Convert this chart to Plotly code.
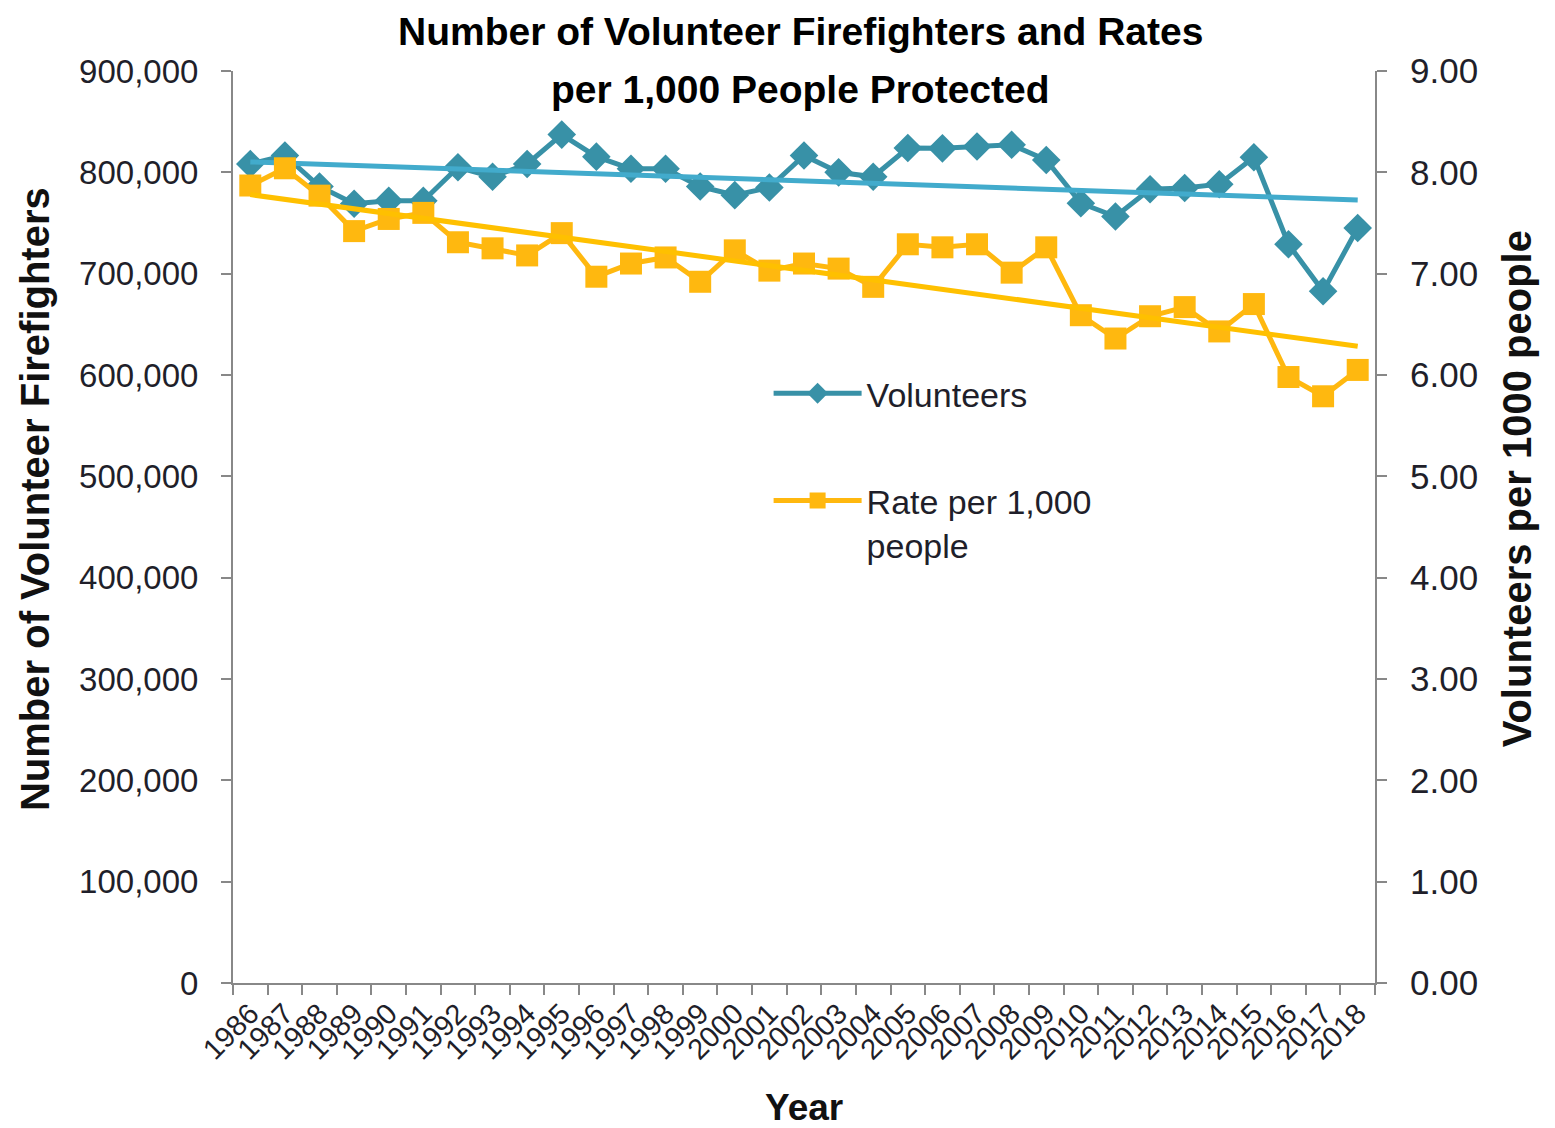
import numpy as np
import plotly.graph_objects as go

years = [str(y) for y in range(1986, 2019)]
volunteers = [808200, 816600, 786000, 769000, 772000, 772000, 805000, 795600, 808200, 837250,
              815500, 803500, 803500, 786000, 777500, 785000, 816600, 800000, 795600, 823950,
              823650, 825450, 827150, 812150, 769500, 756400, 783300, 784500, 788300, 814850,
              729000, 682600, 745000]
rates = [7.87, 8.04, 7.77, 7.42, 7.54, 7.60, 7.31, 7.25, 7.18, 7.40,
         6.97, 7.10, 7.16, 6.92, 7.23, 7.03, 7.10, 7.05, 6.87, 7.29,
         7.26, 7.29, 7.01, 7.26, 6.59, 6.36, 6.58, 6.67, 6.43, 6.70,
         5.98, 5.79, 6.05]

idx = np.arange(len(years))
vfit = np.polyval(np.polyfit(idx, volunteers, 1), idx)
rfit = np.polyval(np.polyfit(idx, rates, 1), idx)

TEAL = "#3891A7"
GOLD = "#FFB80F"

fig = go.Figure()
fig.add_trace(go.Scatter(x=years, y=volunteers, name="Volunteers", mode="lines+markers",
                         line=dict(color=TEAL, width=5),
                         marker=dict(symbol="diamond", size=22, color=TEAL),
                         legendgroup="a"))
fig.add_trace(go.Scatter(x=years, y=rates, name="Rate per 1,000<br>people", mode="lines+markers",
                         yaxis="y2", line=dict(color=GOLD, width=5),
                         marker=dict(symbol="square", size=22, color=GOLD),
                         legendgroup="b"))
fig.add_trace(go.Scatter(x=years, y=vfit, mode="lines", showlegend=False,
                         line=dict(color="#42ABCC", width=5), hoverinfo="skip"))
fig.add_trace(go.Scatter(x=years, y=rfit, mode="lines", showlegend=False, yaxis="y2",
                         line=dict(color="#FFC000", width=5), hoverinfo="skip"))

SANS = "Liberation Sans, Arial"
tick_color = "#1f1f2a"

fig.update_layout(
    width=1555, height=1128,
    margin=dict(l=225, r=188, t=63, b=153),
    paper_bgcolor="white", plot_bgcolor="white",
    xaxis=dict(type="category", range=[-0.5, 32.5], tickmode="linear", tick0=0, dtick=1,
               tickangle=-45, tickson="boundaries",
               ticks="outside", ticklen=10, tickcolor="#888", tickwidth=2,
               showline=True, linecolor="#888", linewidth=2, showgrid=False, automargin=False,
               tickfont=dict(family=SANS, size=29, color=tick_color)),
    yaxis=dict(range=[0, 900000], dtick=100000, tickformat=",d", showgrid=False, zeroline=False,
               showline=True, linecolor="#888", linewidth=2, ticks="outside", ticklen=10,
               tickwidth=2, tickcolor="#888", automargin=False, ticklabelstandoff=16,
               tickfont=dict(family=SANS, size=33, color=tick_color)),
    yaxis2=dict(range=[0, 9], dtick=1, tickformat=".2f", overlaying="y", side="right",
                showgrid=False, zeroline=False, showline=True, linecolor="#888", linewidth=2,
                ticks="outside", ticklen=10, tickwidth=2, tickcolor="#888", automargin=False,
                ticklabelstandoff=16,
                tickfont=dict(family=SANS, size=35, color=tick_color)),
    legend=dict(x=0.469, y=0.678, xanchor="left", yanchor="top", bgcolor="rgba(0,0,0,0)",
                font=dict(family=SANS, size=34, color=tick_color),
                itemwidth=88, tracegroupgap=60, valign="top", traceorder="grouped"),
    annotations=[
        dict(text="<b>Number of Volunteer Firefighters and Rates</b>", xref="paper", yref="paper",
             x=0.497, y=1.0438, xanchor="center", yanchor="middle", showarrow=False,
             font=dict(family="Liberation Sans Narrow, Arial Narrow, Liberation Sans", size=39, color="black")),
        dict(text="<b>per 1,000 People Protected</b>", xref="paper", yref="paper",
             x=0.497, y=0.980, xanchor="center", yanchor="middle", showarrow=False,
             font=dict(family="Liberation Sans Narrow, Arial Narrow, Liberation Sans", size=39, color="black")),
        dict(text="<b>Number of Volunteer Firefighters</b>", xref="paper", yref="paper",
             x=-0.174, y=0.531, xanchor="center", yanchor="middle", showarrow=False, textangle=-90,
             font=dict(family=SANS, size=40, color="#111")),
        dict(text="<b>Volunteers per 1000 people</b>", xref="paper", yref="paper",
             x=1.124, y=0.542, xanchor="center", yanchor="middle", showarrow=False, textangle=-90,
             font=dict(family=SANS, size=40, color="#111")),
        dict(text="<b>Year</b>", xref="paper", yref="paper",
             x=0.4996, y=-0.136, xanchor="center", yanchor="middle", showarrow=False,
             font=dict(family=SANS, size=37, color="#111")),
    ],
)

fig.write_html("out.html")
